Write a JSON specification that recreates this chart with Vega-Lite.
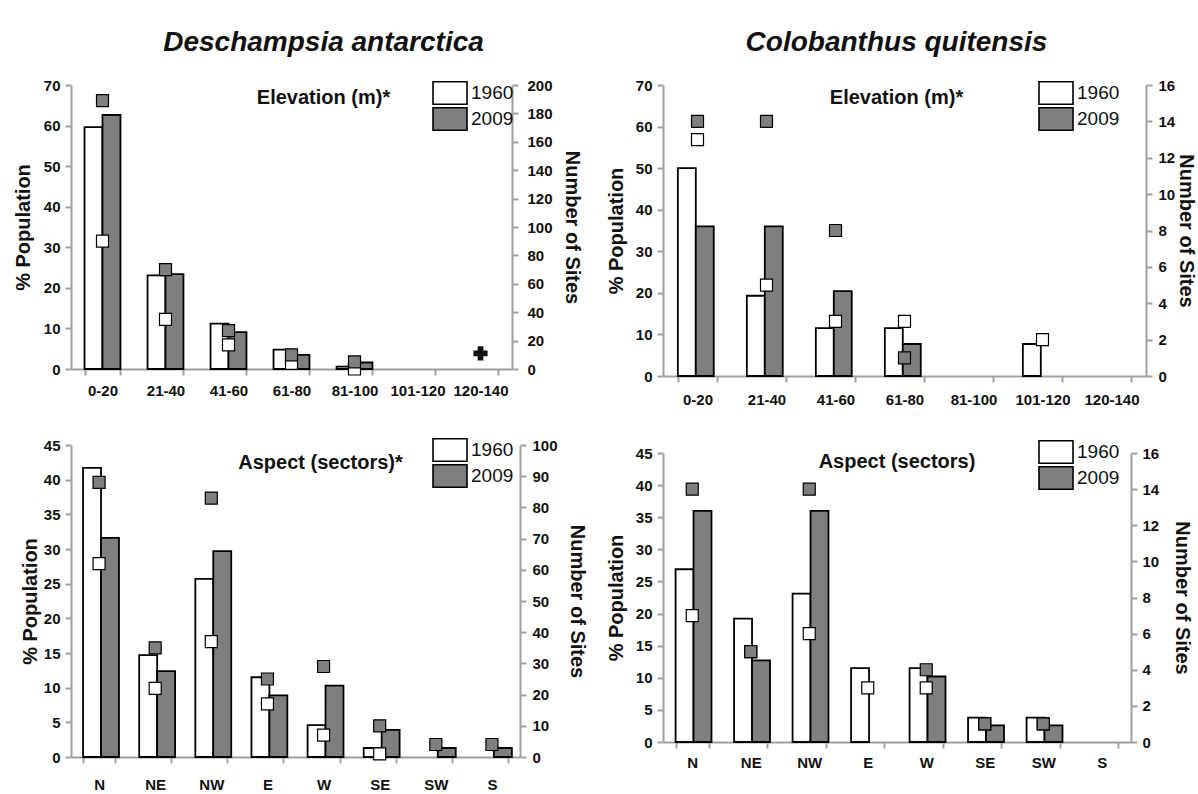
{
  "$schema": "https://vega.github.io/schema/vega-lite/v6.json",
  "background": "white",
  "padding": {"left": 13, "top": 29, "right": 1, "bottom": 0},
  "datasets": {
    "da_elev": [
      {"cat": "0-20", "year": "1960", "pct": 59.6, "sites": 90},
      {"cat": "0-20", "year": "2009", "pct": 62.6, "sites": 189},
      {"cat": "21-40", "year": "1960", "pct": 23.1, "sites": 35},
      {"cat": "21-40", "year": "2009", "pct": 23.4, "sites": 70},
      {"cat": "41-60", "year": "1960", "pct": 11.2, "sites": 17},
      {"cat": "41-60", "year": "2009", "pct": 9.1, "sites": 27},
      {"cat": "61-80", "year": "1960", "pct": 4.8, "sites": 4},
      {"cat": "61-80", "year": "2009", "pct": 3.5, "sites": 10},
      {"cat": "81-100", "year": "1960", "pct": 0.6, "sites": 0},
      {"cat": "81-100", "year": "2009", "pct": 1.6, "sites": 5}
    ],
    "da_elev_mark": [
      {"cat": "120-140", "sites": 11}
    ],
    "cq_elev": [
      {"cat": "0-20", "year": "1960", "pct": 50, "sites": 13},
      {"cat": "0-20", "year": "2009", "pct": 36, "sites": 14},
      {"cat": "21-40", "year": "1960", "pct": 19.3, "sites": 5},
      {"cat": "21-40", "year": "2009", "pct": 36, "sites": 14},
      {"cat": "41-60", "year": "1960", "pct": 11.5, "sites": 3},
      {"cat": "41-60", "year": "2009", "pct": 20.4, "sites": 8},
      {"cat": "61-80", "year": "1960", "pct": 11.5, "sites": 3},
      {"cat": "61-80", "year": "2009", "pct": 7.7, "sites": 1},
      {"cat": "101-120", "year": "1960", "pct": 7.7, "sites": 2}
    ],
    "da_asp": [
      {"cat": "N", "year": "1960", "pct": 41.7, "sites": 62},
      {"cat": "N", "year": "2009", "pct": 31.6, "sites": 88},
      {"cat": "NE", "year": "1960", "pct": 14.7, "sites": 22},
      {"cat": "NE", "year": "2009", "pct": 12.4, "sites": 35},
      {"cat": "NW", "year": "1960", "pct": 25.7, "sites": 37},
      {"cat": "NW", "year": "2009", "pct": 29.7, "sites": 83},
      {"cat": "E", "year": "1960", "pct": 11.5, "sites": 17},
      {"cat": "E", "year": "2009", "pct": 8.9, "sites": 25},
      {"cat": "W", "year": "1960", "pct": 4.6, "sites": 7},
      {"cat": "W", "year": "2009", "pct": 10.3, "sites": 29},
      {"cat": "SE", "year": "1960", "pct": 1.3, "sites": 1},
      {"cat": "SE", "year": "2009", "pct": 3.9, "sites": 10},
      {"cat": "SW", "year": "2009", "pct": 1.3, "sites": 4},
      {"cat": "S", "year": "2009", "pct": 1.3, "sites": 4}
    ],
    "cq_asp": [
      {"cat": "N", "year": "1960", "pct": 26.9, "sites": 7},
      {"cat": "N", "year": "2009", "pct": 36, "sites": 14},
      {"cat": "NE", "year": "1960", "pct": 19.2, "sites": 5},
      {"cat": "NE", "year": "2009", "pct": 12.7, "sites": 5},
      {"cat": "NW", "year": "1960", "pct": 23.1, "sites": 6},
      {"cat": "NW", "year": "2009", "pct": 36, "sites": 14},
      {"cat": "E", "year": "1960", "pct": 11.5, "sites": 3},
      {"cat": "W", "year": "1960", "pct": 11.5, "sites": 3},
      {"cat": "W", "year": "2009", "pct": 10.2, "sites": 4},
      {"cat": "SE", "year": "1960", "pct": 3.8, "sites": 1},
      {"cat": "SE", "year": "2009", "pct": 2.6, "sites": 1},
      {"cat": "SW", "year": "1960", "pct": 3.8, "sites": 1},
      {"cat": "SW", "year": "2009", "pct": 2.6, "sites": 1}
    ]
  },
  "hconcat": [
    {
      "spacing": 40,
      "vconcat": [
        {
          "width": 441,
          "height": 284,
          "data": {"name": "da_elev"},
          "title": {"text": "Deschampsia antarctica", "subtitle": "Elevation (m)*", "dx": 32, "offset": -30, "subtitlePadding": 31},
          "layer": [
            {
              "mark": {"type": "bar", "stroke": "black", "strokeWidth": 1.8},
              "encoding": {
                "x": {"field": "cat", "type": "nominal", "sort": ["0-20", "21-40", "41-60", "61-80", "81-100", "101-120", "120-140"],
                  "scale": {"domain": ["0-20", "21-40", "41-60", "61-80", "81-100", "101-120", "120-140"], "paddingInner": 0.43, "paddingOuter": 0.215},
                  "axis": {"title": null, "labelPadding": 8}},
                "xOffset": {"field": "year", "type": "nominal", "sort": ["1960", "2009"]},
                "y": {"field": "pct", "type": "quantitative", "scale": {"domain": [0, 70], "nice": false},
                  "axis": {"orient": "left", "title": "% Population", "values": [0, 10, 20, 30, 40, 50, 60, 70], "labelPadding": 5, "titlePadding": 10, "labelOverlap": false}},
                "fill": {"field": "year", "type": "nominal", "scale": {"domain": ["1960", "2009"], "range": ["#ffffff", "#7f7f7f"]},
                  "legend": {"orient": "none", "legendX": 368, "legendY": -3, "rowPadding": -20}}
              }
            },
            {
              "layer": [
                {
                  "mark": {"type": "point", "shape": "square", "filled": true, "size": 144, "stroke": "black", "strokeWidth": 1.2, "opacity": 1},
                  "encoding": {
                    "x": {"field": "cat", "type": "nominal", "sort": ["0-20", "21-40", "41-60", "61-80", "81-100", "101-120", "120-140"]},
                    "y": {"field": "sites", "type": "quantitative", "scale": {"domain": [0, 200], "nice": false},
                      "axis": {"orient": "right", "title": "Number of Sites", "values": [0, 20, 40, 60, 80, 100, 120, 140, 160, 180, 200], "labelPadding": 9, "titlePadding": 9, "labelOverlap": false}},
                    "fill": {"field": "year", "type": "nominal", "legend": null}
                  }
                },
                {
                  "data": {"name": "da_elev_mark"},
                  "mark": {"type": "point", "shape": "cross", "filled": true, "size": 200, "color": "#111111", "opacity": 1},
                  "encoding": {
                    "x": {"field": "cat", "type": "nominal"},
                    "y": {"field": "sites", "type": "quantitative",
                      "axis": {"orient": "right", "title": "Number of Sites", "values": [0, 20, 40, 60, 80, 100, 120, 140, 160, 180, 200], "labelPadding": 9, "titlePadding": 9, "labelOverlap": false}}
                  }
                }
              ]
            }
          ],
          "resolve": {"scale": {"y": "independent"}}
        },
        {
          "width": 449,
          "height": 312,
          "data": {"name": "da_asp"},
          "title": {"text": "Aspect (sectors)*", "fontSize": 20, "fontStyle": "normal", "dx": 25, "offset": -35},
          "layer": [
            {
              "mark": {"type": "bar", "stroke": "black", "strokeWidth": 1.8},
              "encoding": {
                "x": {"field": "cat", "type": "nominal", "sort": ["N", "NE", "NW", "E", "W", "SE", "SW", "S"],
                  "scale": {"domain": ["N", "NE", "NW", "E", "W", "SE", "SW", "S"], "paddingInner": 0.43, "paddingOuter": 0.215},
                  "axis": {"title": null, "labelPadding": 14}},
                "xOffset": {"field": "year", "type": "nominal", "sort": ["1960", "2009"]},
                "y": {"field": "pct", "type": "quantitative", "scale": {"domain": [0, 45], "nice": false},
                  "axis": {"orient": "left", "title": "% Population", "values": [0, 5, 10, 15, 20, 25, 30, 35, 40, 45], "labelPadding": 5, "titlePadding": 3, "labelOverlap": false}},
                "fill": {"field": "year", "type": "nominal", "scale": {"domain": ["1960", "2009"], "range": ["#ffffff", "#7f7f7f"]},
                  "legend": {"orient": "none", "legendX": 368, "legendY": -6, "rowPadding": -20}}
              }
            },
            {
              "mark": {"type": "point", "shape": "square", "filled": true, "size": 144, "stroke": "black", "strokeWidth": 1.2, "opacity": 1},
              "encoding": {
                "x": {"field": "cat", "type": "nominal", "sort": ["N", "NE", "NW", "E", "W", "SE", "SW", "S"]},
                "y": {"field": "sites", "type": "quantitative", "scale": {"domain": [0, 100], "nice": false},
                  "axis": {"orient": "right", "title": "Number of Sites", "values": [0, 10, 20, 30, 40, 50, 60, 70, 80, 90, 100], "labelPadding": 6, "titlePadding": 9, "labelOverlap": false}},
                "fill": {"field": "year", "type": "nominal", "legend": null}
              }
            }
          ],
          "resolve": {"scale": {"y": "independent"}}
        }
      ],
      "resolve": {"scale": {"x": "independent", "y": "independent", "fill": "independent"}, "legend": {"fill": "independent"}}
    },
    {
      "spacing": 34,
      "vconcat": [
        {
          "width": 483,
          "height": 291,
          "data": {"name": "cq_elev"},
          "title": {"text": "Colobanthus quitensis", "subtitle": "Elevation (m)*", "dx": -8, "offset": -30, "subtitlePadding": 31},
          "layer": [
            {
              "mark": {"type": "bar", "stroke": "black", "strokeWidth": 1.8},
              "encoding": {
                "x": {"field": "cat", "type": "nominal", "sort": ["0-20", "21-40", "41-60", "61-80", "81-100", "101-120", "120-140"],
                  "scale": {"domain": ["0-20", "21-40", "41-60", "61-80", "81-100", "101-120", "120-140"], "paddingInner": 0.43, "paddingOuter": 0.215},
                  "axis": {"title": null, "labelPadding": 10}},
                "xOffset": {"field": "year", "type": "nominal", "sort": ["1960", "2009"]},
                "y": {"field": "pct", "type": "quantitative", "scale": {"domain": [0, 70], "nice": false},
                  "axis": {"orient": "left", "title": "% Population", "values": [0, 10, 20, 30, 40, 50, 60, 70], "labelPadding": 5, "titlePadding": 9, "labelOverlap": false}},
                "fill": {"field": "year", "type": "nominal", "scale": {"domain": ["1960", "2009"], "range": ["#ffffff", "#7f7f7f"]},
                  "legend": {"orient": "none", "legendX": 382, "legendY": -3, "rowPadding": -20}}
              }
            },
            {
              "mark": {"type": "point", "shape": "square", "filled": true, "size": 144, "stroke": "black", "strokeWidth": 1.2, "opacity": 1},
              "encoding": {
                "x": {"field": "cat", "type": "nominal", "sort": ["0-20", "21-40", "41-60", "61-80", "81-100", "101-120", "120-140"]},
                "y": {"field": "sites", "type": "quantitative", "scale": {"domain": [0, 16], "nice": false},
                  "axis": {"orient": "right", "title": "Number of Sites", "values": [0, 2, 4, 6, 8, 10, 12, 14, 16], "labelPadding": 6, "titlePadding": 1, "labelOverlap": false}},
                "fill": {"field": "year", "type": "nominal", "legend": null}
              }
            }
          ],
          "resolve": {"scale": {"y": "independent"}}
        },
        {
          "width": 468,
          "height": 289,
          "data": {"name": "cq_asp"},
          "title": {"text": "Aspect (sectors)", "fontSize": 20, "fontStyle": "normal", "dx": 0, "offset": -31},
          "layer": [
            {
              "mark": {"type": "bar", "stroke": "black", "strokeWidth": 1.8},
              "encoding": {
                "x": {"field": "cat", "type": "nominal", "sort": ["N", "NE", "NW", "E", "W", "SE", "SW", "S"],
                  "scale": {"domain": ["N", "NE", "NW", "E", "W", "SE", "SW", "S"], "paddingInner": 0.43, "paddingOuter": 0.215},
                  "axis": {"title": null, "labelPadding": 7}},
                "xOffset": {"field": "year", "type": "nominal", "sort": ["1960", "2009"]},
                "y": {"field": "pct", "type": "quantitative", "scale": {"domain": [0, 45], "nice": false},
                  "axis": {"orient": "left", "title": "% Population", "values": [0, 5, 10, 15, 20, 25, 30, 35, 40, 45], "labelPadding": 5, "titlePadding": 9, "labelOverlap": false}},
                "fill": {"field": "year", "type": "nominal", "scale": {"domain": ["1960", "2009"], "range": ["#ffffff", "#7f7f7f"]},
                  "legend": {"orient": "none", "legendX": 382, "legendY": -12, "rowPadding": -20}}
              }
            },
            {
              "mark": {"type": "point", "shape": "square", "filled": true, "size": 144, "stroke": "black", "strokeWidth": 1.2, "opacity": 1},
              "encoding": {
                "x": {"field": "cat", "type": "nominal", "sort": ["N", "NE", "NW", "E", "W", "SE", "SW", "S"]},
                "y": {"field": "sites", "type": "quantitative", "scale": {"domain": [0, 16], "nice": false},
                  "axis": {"orient": "right", "title": "Number of Sites", "values": [0, 2, 4, 6, 8, 10, 12, 14, 16], "labelPadding": 5, "titlePadding": 13, "labelOverlap": false}},
                "fill": {"field": "year", "type": "nominal", "legend": null}
              }
            }
          ],
          "resolve": {"scale": {"y": "independent"}}
        }
      ],
      "resolve": {"scale": {"x": "independent", "y": "independent", "fill": "independent"}, "legend": {"fill": "independent"}}
    }
  ],
  "spacing": 19,
  "resolve": {"scale": {"x": "independent", "y": "independent", "fill": "independent"}, "legend": {"fill": "independent"}},
  "config": {
    "font": "Liberation Sans",
    "view": {"stroke": null},
    "axis": {
      "grid": false,
      "domainColor": "#a0a0a0",
      "domainWidth": 2,
      "tickColor": "#a0a0a0",
      "tickWidth": 2,
      "tickSize": 6,
      "labelFont": "Liberation Sans",
      "labelFontSize": 15,
      "labelFontWeight": "bold",
      "labelColor": "#111111",
      "labelOverlap": false,
      "titleFont": "Liberation Sans",
      "titleFontSize": 20,
      "titleFontWeight": "bold",
      "titleColor": "#111111"
    },
    "axisX": {"tickBand": "extent", "labelAngle": 0, "labelOverlap": false},
    "legend": {
      "title": null,
      "symbolType": "M-1.7,-1.12L1.7,-1.12L1.7,1.12L-1.7,1.12Z",
      "symbolSize": 400,
      "symbolStrokeColor": "black",
      "symbolStrokeWidth": 1.6,
      "symbolOpacity": 1,
      "labelFont": "Liberation Sans",
      "labelFontSize": 19,
      "labelFontWeight": "normal",
      "labelColor": "#111111",
      "labelOffset": 10,
      "padding": 0
    },
    "title": {
      "font": "Liberation Sans",
      "fontSize": 28,
      "fontStyle": "italic",
      "fontWeight": "bold",
      "color": "#111111",
      "anchor": "middle",
      "frame": "group",
      "subtitleFont": "Liberation Sans",
      "subtitleFontSize": 20,
      "subtitleFontWeight": "bold",
      "subtitleColor": "#111111"
    }
  }
}
